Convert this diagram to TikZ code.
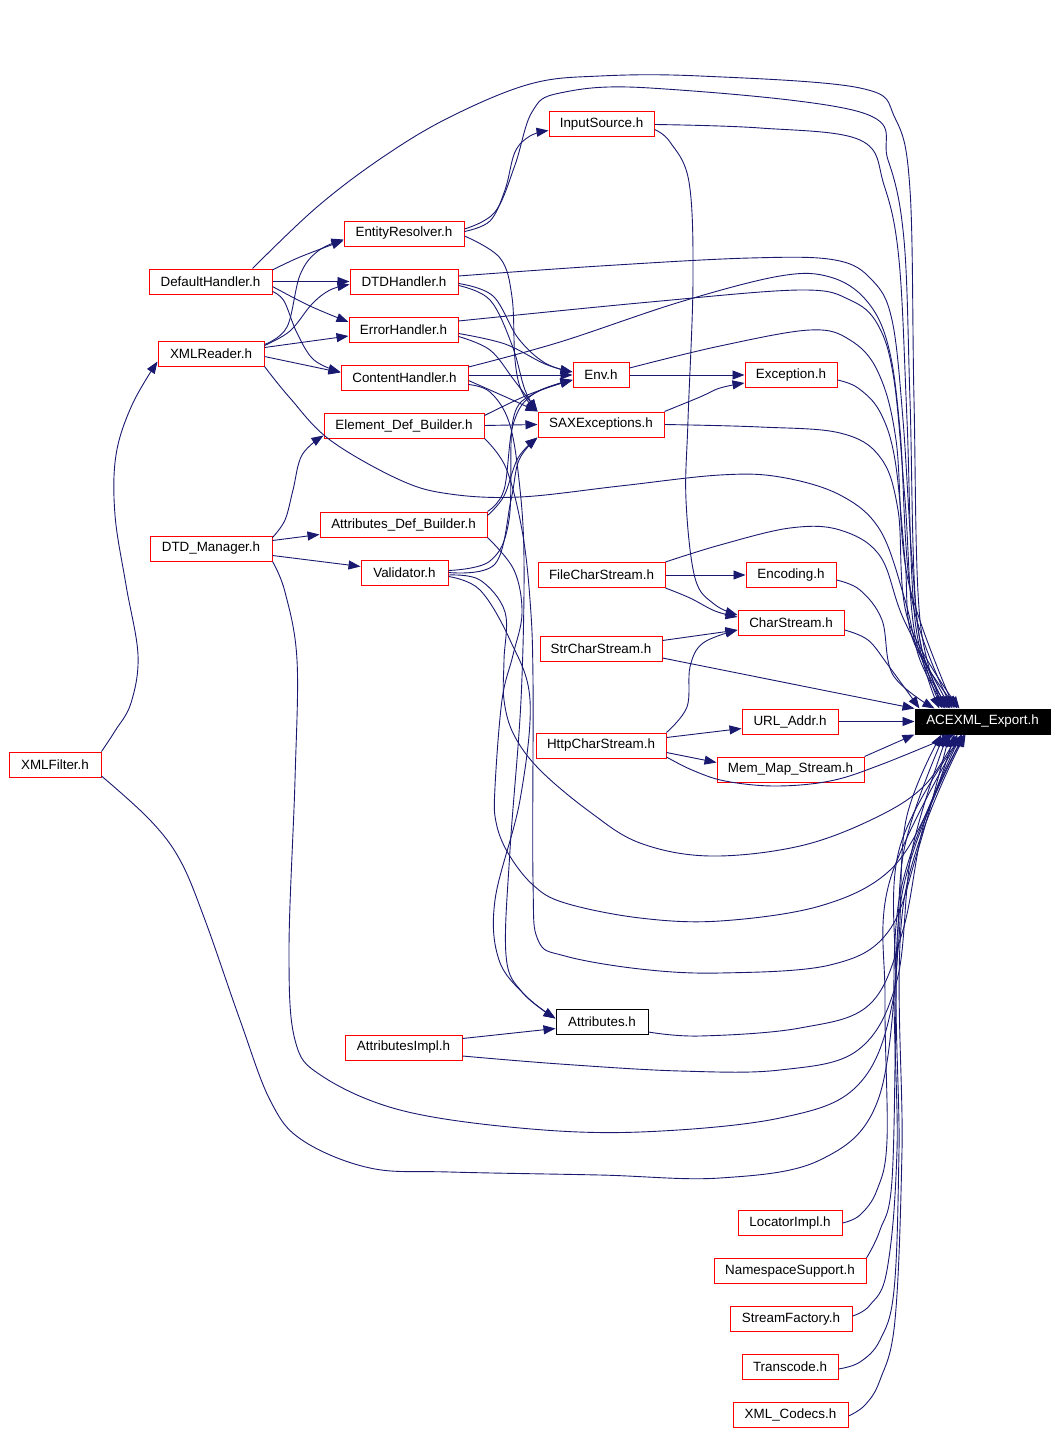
\documentclass[tikz,border=0pt]{standalone}
\usepackage{fontspec}
\setmainfont{Liberation Sans}
\usetikzlibrary{arrows.meta}
\definecolor{edgeblue}{RGB}{25,25,112}
\tikzset{
  box/.style={draw=red, line width=1pt, minimum height=25pt, inner sep=0pt, font=\fontsize{13.4}{15}\selectfont, text=black},
  boxblack/.style={box, draw=black},
  boxmain/.style={box, draw=black, fill=black, text=white},
  edge/.style={draw=edgeblue, line width=0.9pt, -{Triangle[length=12pt,width=9pt]}},
}
\begin{document}
\begin{tikzpicture}[x=1pt,y=-1pt]
\useasboundingbox (0,0) rectangle (1058,1434);
% nodes
\node[boxmain, minimum width=135pt] (E) at (982.5,721.5) {ACEXML\_Export.h};
\node[box, minimum width=105pt] (InputSource) at (601.5,124.5) {InputSource.h};
\node[box, minimum width=120pt] (EntityResolver) at (404,233.5) {EntityResolver.h};
\node[box, minimum width=123pt] (DefaultHandler) at (210.5,281.5) {DefaultHandler.h};
\node[box, minimum width=108pt] (DTDHandler) at (404,281.5) {DTDHandler.h};
\node[box, minimum width=109pt] (ErrorHandler) at (403.5,329.5) {ErrorHandler.h};
\node[box, minimum width=106pt] (XMLReader) at (211,353.5) {XMLReader.h};
\node[box, minimum width=127pt] (ContentHandler) at (404.5,377.5) {ContentHandler.h};
\node[box, minimum width=56pt] (Env) at (601,375) {Env.h};
\node[box, minimum width=92pt] (Exception) at (791,375) {Exception.h};
\node[box, minimum width=160pt] (ElementDef) at (404,425.5) {Element\_Def\_Builder.h};
\node[box, minimum width=126pt] (SAX) at (601,424.5) {SAXExceptions.h};
\node[box, minimum width=167pt] (AttrDef) at (403.5,524.5) {Attributes\_Def\_Builder.h};
\node[box, minimum width=122pt] (DTDManager) at (211,548.5) {DTD\_Manager.h};
\node[box, minimum width=87pt] (Validator) at (404.5,572.5) {Validator.h};
\node[box, minimum width=127pt] (FileCS) at (601.5,575) {FileCharStream.h};
\node[box, minimum width=90pt] (Encoding) at (791,575) {Encoding.h};
\node[box, minimum width=106pt] (CharStream) at (791,623) {CharStream.h};
\node[box, minimum width=122pt] (StrCS) at (601,648.5) {StrCharStream.h};
\node[box, minimum width=96pt] (URLAddr) at (790,721.5) {URL\_Addr.h};
\node[box, minimum width=130pt] (HttpCS) at (601,745.5) {HttpCharStream.h};
\node[box, minimum width=147pt] (MemMap) at (790.5,769.5) {Mem\_Map\_Stream.h};
\node[box, minimum width=92pt] (XMLFilter) at (55,764.5) {XMLFilter.h};
\node[boxblack, minimum width=92pt] (Attributes) at (602,1021.5) {Attributes.h};
\node[box, minimum width=117pt] (AttrImpl) at (403.5,1047.5) {AttributesImpl.h};
\node[box, minimum width=104pt] (Locator) at (790,1223) {LocatorImpl.h};
\node[box, minimum width=152pt] (NSSupport) at (790,1271) {NamespaceSupport.h};
\node[box, minimum width=122pt] (StreamFactory) at (791,1319) {StreamFactory.h};
\node[box, minimum width=96pt] (Transcode) at (790,1367) {Transcode.h};
\node[box, minimum width=115pt] (XMLCodecs) at (790.5,1415) {XML\_Codecs.h};

% edges to ACEXML_Export.h
\draw[edge] plot[smooth,tension=0.6] coordinates {([xshift=-20pt]DefaultHandler.north east) (317,207) (383,157) (450,117) (530,84) (600,76) (700,76) (860,88) (895,118) (910,190) (914,400) (920,620) ([xshift=30pt]E.north west)};
\draw[edge] plot[smooth,tension=0.6] coordinates {([yshift=4.5pt]EntityResolver.east) (495,212) (515,165) (532,112) (560,93) (650,88) (860,112) (888,160) (904,240) (910,400) (917,620) ([xshift=28pt]E.north west)};
\draw[edge] plot[smooth,tension=0.6] coordinates {(InputSource.east) (760,128) (860,140) (884,185) (899,260) (907,420) (915,620) ([xshift=25pt]E.north west)};
\draw[edge] plot[smooth,tension=0.6] coordinates {([yshift=5.5pt]DTDHandler.east) (600,266) (750,258) (835,260) (872,280) (892,320) (903,420) (912,560) (922,650) ([xshift=33pt]E.north west)};
\draw[edge] plot[smooth,tension=0.6] coordinates {([yshift=8.5pt]ErrorHandler.east) (650,302) (800,290) (850,300) (878,325) (894,380) (905,500) (916,640) ([xshift=35pt]E.north west)};
\draw[edge] plot[smooth,tension=0.6] coordinates {([yshift=10.5pt]ContentHandler.east) (560,342) (680,302) (780,276) (830,277) (866,300) (888,345) (900,430) (912,600) ([xshift=38pt]E.north west)};
\draw[edge] plot[smooth,tension=0.6] coordinates {([yshift=7pt]Env.east) (720,346) (810,330) (850,340) (878,372) (896,440) (908,580) ([xshift=40pt]E.north west)};
\draw[edge] plot[smooth,tension=0.6] coordinates {([yshift=-5pt]Exception.east) (858,388) (880,412) (895,460) (905,560) (913,640) ([xshift=43pt]E.north west)};
\draw[edge] plot[smooth,tension=0.6] coordinates {(SAX.east) (760,427) (840,433) (880,457) (898,510) (908,620) ([xshift=45pt]E.north west)};
\draw[edge] plot[smooth,tension=0.6] coordinates {(XMLReader.south east) (290,398) (330,440) (400,480) (450,494) (520,497) (620,486) (720,475) (780,477) (840,495) (880,530) (905,600) (920,660) ([xshift=31pt]E.north west)};
\draw[edge] plot[smooth,tension=0.6] coordinates {(FileCS.north east) (720,545) (790,528) (840,530) (880,556) (904,620) ([xshift=36pt]E.north west)};
\draw[edge] plot[smooth,tension=0.6] coordinates {([yshift=-5pt]Encoding.east) (860,590) (882,620) (893,675) ([xshift=20pt]E.north west)};
\draw[edge] plot[smooth,tension=0.6] coordinates {([yshift=-7pt]CharStream.east) (868,640) (888,665) ([xshift=5pt]E.north west)};
\draw[edge] ([yshift=-9.5pt]StrCS.east) -- (E.north west);
\draw[edge] (URLAddr.east) -- (E.west);
\draw[edge] (MemMap.north east) -- (E.south west);
\draw[edge] plot[smooth,tension=0.6] coordinates {([yshift=-11.5pt]HttpCS.east) (692,770) (725,781) (775,786) (830,781) (880,765) ([xshift=40pt]E.south west)};
\draw[edge] plot[smooth,tension=0.6] coordinates {([yshift=-2.5pt]Validator.east) (480,580) (505,612) (504,660) (504,700) (514,735) (540,770) (590,812) (640,843) (710,856) (800,846) (875,818) (925,785) ([xshift=43pt]E.south west)};
\draw[edge] plot[smooth,tension=0.6] coordinates {(AttrDef.south east) (514,570) (522,613) (513,655) (502,700) (495,787) (496,822) (508,853) (533,885) (565,903) (640,918) (720,921) (820,906) (888,872) (928,810) ([xshift=40pt]E.south west)};
\draw[edge] plot[smooth,tension=0.6] coordinates {(ElementDef.south east) (506,468) (522,530) (530,600) (533,680) (533,880) (538,940) (565,956) (640,969) (720,973) (830,965) (888,932) (918,850) ([xshift=35pt]E.south west)};
\draw[edge] plot[smooth,tension=0.6] coordinates {([yshift=-10.5pt]Attributes.east) (700,1036) (800,1028) (870,1004) (903,930) (925,820) ([xshift=47pt]E.south west)};
\draw[edge] plot[smooth,tension=0.6] coordinates {([yshift=-8.5pt]AttrImpl.east) (560,1064) (680,1071) (780,1070) (858,1050) (897,980) (912,850) ([xshift=33pt]E.south west)};
\draw[edge] plot[smooth,tension=0.6] coordinates {(DTDManager.south east) (285,592) (297,660) (295,780) (289,950) (295,1040) (322,1076) (400,1110) (520,1128) (640,1132) (780,1118) (858,1085) (893,1000) (904,850) ([xshift=30pt]E.south west)};
\draw[edge] plot[smooth,tension=0.6] coordinates {([yshift=-11.5pt]XMLFilter.east) (150,820) (180,860) (205,920) (240,1020) (270,1100) (302,1140) (370,1168) (450,1172) (600,1175) (720,1178) (820,1160) (878,1100) (898,950) (906,820) ([xshift=27pt]E.south west)};
\draw[edge] plot[smooth,tension=0.6] coordinates {(Locator.east) (860,1215) (877,1190) (887,1140) (885,1000) (890,880) ([xshift=47pt]E.south west)};
\draw[edge] plot[smooth,tension=0.6] coordinates {(NSSupport.north east) (880,1230) (892,1180) (896,1000) (899,850) ([xshift=48pt]E.south west)};
\draw[edge] plot[smooth,tension=0.6] coordinates {([yshift=3pt]StreamFactory.east) (870,1305) (887,1270) (897,1150) (899,900) ([xshift=50pt]E.south west)};
\draw[edge] plot[smooth,tension=0.6] coordinates {([yshift=-2pt]Transcode.east) (860,1362) (880,1340) (894,1290) (899,1150) (901,900) ([xshift=50pt]E.south west)};
\draw[edge] plot[smooth,tension=0.6] coordinates {([yshift=-1pt]XMLCodecs.east) (865,1405) (880,1380) (895,1320) (902,1150) (904,900) ([xshift=51pt]E.south west)};

% internal edges
\draw[edge] plot[smooth,tension=0.6] coordinates {(XMLFilter.north east) (115,731) (131,703) (138,655) (126,585) (115,515) (116,455) (132,405) ([yshift=-8pt]XMLReader.west)};
\draw[edge] plot[smooth,tension=0.6] coordinates {([yshift=11.5pt]DefaultHandler.east) (300,257) ([yshift=-7pt]EntityResolver.west)};
\draw[edge] (DefaultHandler.east) -- (DTDHandler.west);
\draw[edge] plot[smooth,tension=0.6] coordinates {([yshift=-5pt]DefaultHandler.east) (310,306) ([yshift=7.5pt]ErrorHandler.west)};
\draw[edge] plot[smooth,tension=0.6] coordinates {([yshift=-10pt]DefaultHandler.east) (284,301) (297,333) (314,360) ([yshift=5.5pt]ContentHandler.west)};
\draw[edge] plot[smooth,tension=0.6] coordinates {([yshift=9pt]XMLReader.east) (287,327) (300,275) (318,251) ([yshift=-6pt]EntityResolver.west)};
\draw[edge] plot[smooth,tension=0.6] coordinates {([yshift=8pt]XMLReader.east) (290,331) (312,304) (330,290) ([yshift=-3pt]DTDHandler.west)};
\draw[edge] ([yshift=6pt]XMLReader.east) -- ([yshift=-6.5pt]ErrorHandler.west);
\draw[edge] ([yshift=-3pt]XMLReader.east) -- ([yshift=5pt]ContentHandler.west);
\draw[edge] plot[smooth,tension=0.6] coordinates {([yshift=2pt]EntityResolver.east) (490,221) (505,190) (515,152) (530,136) ([yshift=-6pt]InputSource.west)};
\draw[edge] plot[smooth,tension=0.6] coordinates {([yshift=-2.5pt]EntityResolver.east) (500,258) (512,297) (515,360) (522,392) (SAX.north west)};
\draw[edge] plot[smooth,tension=0.6] coordinates {([yshift=-2pt]DTDHandler.east) (493,296) (518,338) (545,363) ([yshift=3pt]Env.west)};
\draw[edge] plot[smooth,tension=0.6] coordinates {([yshift=-4pt]DTDHandler.east) (490,300) (512,345) (525,390) (SAX.north west)};
\draw[edge] plot[smooth,tension=0.6] coordinates {([yshift=-4pt]ErrorHandler.east) (505,344) (545,364) ([yshift=3pt]Env.west)};
\draw[edge] plot[smooth,tension=0.6] coordinates {([yshift=-7pt]ErrorHandler.east) (490,350) (514,380) (SAX.north west)};
\draw[edge] ([yshift=2.5pt]ContentHandler.east) -- (Env.west);
\draw[edge] plot[smooth,tension=0.6] coordinates {([yshift=-3pt]ContentHandler.east) (508,398) (SAX.north west)};
\draw[edge] plot[smooth,tension=0.6] coordinates {([yshift=-7pt]ContentHandler.east) (490,392) (509,422) (519,480) (524,560) (521,700) (510,850) (506,955) (522,992) ([yshift=3pt]Attributes.west)};
\draw[edge] plot[smooth,tension=0.6] coordinates {([yshift=10pt]ElementDef.east) (530,394) ([yshift=-5pt]Env.west)};
\draw[edge] (ElementDef.east) -- (SAX.west);
\draw[edge] plot[smooth,tension=0.6] coordinates {(AttrDef.north east) (504,490) (513,425) (532,395) ([yshift=-5pt]Env.west)};
\draw[edge] plot[smooth,tension=0.6] coordinates {([yshift=9pt]AttrDef.east) (504,496) (518,458) (SAX.south west)};
\draw[edge] plot[smooth,tension=0.6] coordinates {([yshift=2pt]Validator.east) (490,561) (509,520) (513,420) (535,393) ([yshift=-5pt]Env.west)};
\draw[edge] plot[smooth,tension=0.6] coordinates {(Validator.east) (495,564) (511,500) (519,460) (SAX.south west)};
\draw[edge] plot[smooth,tension=0.6] coordinates {([yshift=-4pt]Validator.east) (480,590) (510,640) (530,700) (520,800) (495,900) (499,960) (526,996) ([yshift=3pt]Attributes.west)};
\draw[edge] (Env.east) -- (Exception.west);
\draw[edge] plot[smooth,tension=0.6] coordinates {(SAX.north east) (700,397) (720,388) ([yshift=-8pt]Exception.west)};
\draw[edge] plot[smooth,tension=0.6] coordinates {([yshift=11pt]DTDManager.east) (285,520) (293,490) (302,455) ([yshift=-10pt]ElementDef.west)};
\draw[edge] ([yshift=8pt]DTDManager.east) -- ([yshift=-10pt]AttrDef.west);
\draw[edge] ([yshift=-7pt]DTDManager.east) -- ([yshift=6pt]Validator.west);
\draw[edge] (FileCS.east) -- (Encoding.west);
\draw[edge] plot[smooth,tension=0.6] coordinates {(FileCS.south east) (690,598) (715,611) ([yshift=6pt]CharStream.west)};
\draw[edge] plot[smooth,tension=0.6] coordinates {([yshift=-5pt]InputSource.east) (670,142) (689,182) (693,280) (688,420) (686,500) (695,578) (714,604) ([yshift=8pt]CharStream.west)};
\draw[edge] ([yshift=8pt]StrCS.east) -- ([yshift=-7pt]CharStream.west);
\draw[edge] plot[smooth,tension=0.6] coordinates {(HttpCS.north east) (687,707) (690,667) (703,643) ([yshift=-7pt]CharStream.west)};
\draw[edge] ([yshift=8pt]HttpCS.east) -- ([yshift=-7pt]URLAddr.west);
\draw[edge] ([yshift=-7pt]HttpCS.east) -- ([yshift=7pt]MemMap.west);
\draw[edge] ([yshift=9pt]AttrImpl.east) -- ([yshift=-7pt]Attributes.west);
\end{tikzpicture}
\end{document}
